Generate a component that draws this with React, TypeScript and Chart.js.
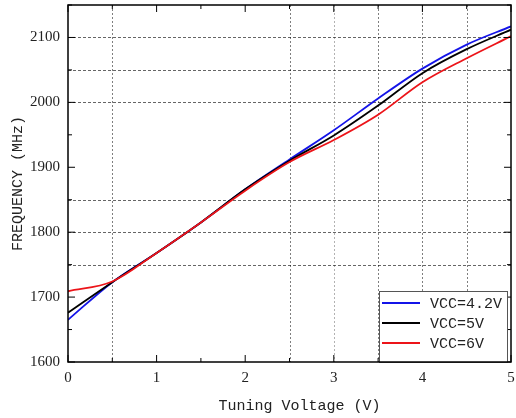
import React, { useEffect, useRef } from 'react';
import { Chart, registerables } from 'chart.js';

Chart.register(...registerables);

const voltages = [0, 0.5, 1, 1.5, 2, 2.5, 3, 3.5, 4, 4.5, 5];
const vcc42 = [1665, 1723, 1768, 1815, 1866, 1912, 1957, 2006, 2052, 2089, 2117];
const vcc5 = [1676, 1723, 1768, 1815, 1866, 1910, 1949, 1995, 2045, 2082, 2112];
const vcc6 = [1709, 1724, 1768, 1815, 1864, 1908, 1942, 1981, 2031, 2068, 2102];

const seriesLabels = ['VCC=4.2V', 'VCC=5V', 'VCC=6V'];
const seriesColors = ['#1414e8', '#000000', '#ec1419'];

const xTickLabels = ['0', '1', '2', '3', '4', '5'];
const yTickLabels = ['1600', '1700', '1800', '1900', '2000', '2100'];
const xGridValues = [0.5, 2.5, 3, 3.5, 4, 4.5];
const yGridValues = [1750, 1800, 1850, 2000, 2050, 2100];

const xTitle = 'Tuning Voltage (V)';
const yTitle = 'FREQUENCY (MHz)';

const MONO = '"Liberation Mono", monospace';
const SERIF = '"Liberation Serif", serif';

const gridPlugin = {
  id: 'partialGrid',
  beforeDatasetsDraw(chart: any) {
    const { ctx, chartArea: a, scales } = chart;
    ctx.save();
    ctx.lineWidth = 1;
    ctx.setLineDash([2, 2]);
    xGridValues.forEach((v) => {
      ctx.strokeStyle = v === 3 ? 'rgba(0,0,0,0.3)' : 'rgba(0,0,0,0.5)';
      const px = Math.round(scales.x.getPixelForValue(v)) + 0.5;
      ctx.beginPath();
      ctx.moveTo(px, a.top);
      ctx.lineTo(px, a.bottom);
      ctx.stroke();
    });
    ctx.strokeStyle = 'rgba(0,0,0,0.6)';
    ctx.setLineDash([3, 2]);
    yGridValues.forEach((v) => {
      const py = Math.round(scales.y.getPixelForValue(v)) + 0.5;
      ctx.beginPath();
      ctx.moveTo(a.left, py);
      ctx.lineTo(a.right, py);
      ctx.stroke();
    });
    ctx.restore();
  },
};

const framePlugin = {
  id: 'frameTicksLegend',
  afterDraw(chart: any) {
    const { ctx, chartArea: a, scales } = chart;
    const x = scales.x;
    const y = scales.y;
    ctx.save();
    ctx.strokeStyle = '#000';
    ctx.lineWidth = 1;
    const seg = (x1: number, y1: number, x2: number, y2: number) => {
      ctx.beginPath();
      ctx.moveTo(x1, y1);
      ctx.lineTo(x2, y2);
      ctx.stroke();
    };
    x.ticks.forEach((t: any) => {
      const px = x.getPixelForValue(t.value);
      const major = Number.isInteger(t.value);
      const len = major ? 7 : 4;
      seg(px, a.bottom, px, a.bottom - len);
      seg(px, a.top, px, a.top + len);
    });
    y.ticks.forEach((t: any) => {
      const py = y.getPixelForValue(t.value);
      const major = t.value % 100 === 0;
      const len = major ? 7 : 4;
      seg(a.left, py, a.left + len, py);
      seg(a.right, py, a.right - len, py);
    });

    // legend
    const boxW = 128;
    const boxH = 71;
    const bx = a.right - 4 - boxW;
    const by = a.bottom - boxH;
    ctx.fillStyle = '#fff';
    ctx.fillRect(bx, by, boxW, boxH);
    ctx.strokeStyle = '#555';
    ctx.lineWidth = 1;
    ctx.strokeRect(bx + 0.5, by + 0.5, boxW, boxH);
    ctx.font = '15px ' + MONO;
    ctx.textBaseline = 'middle';
    ctx.textAlign = 'left';
    chart.data.datasets.forEach((ds: any, i: number) => {
      const ly = by + 12 + i * 20;
      ctx.strokeStyle = ds.borderColor;
      ctx.lineWidth = 2;
      seg(bx + 3, ly, bx + 41, ly);
      ctx.fillStyle = '#222';
      ctx.fillText(ds.label, bx + 51, ly + 1);
    });

    // frame
    ctx.strokeStyle = '#000';
    ctx.lineWidth = 1.5;
    ctx.strokeRect(a.left, a.top, a.right - a.left, a.bottom - a.top);

    // x title
    ctx.fillStyle = '#222';
    ctx.font = '15px ' + MONO;
    ctx.textAlign = 'center';
    ctx.textBaseline = 'middle';
    ctx.fillText(xTitle, (a.left + a.right) / 2 + 10, 406);
    ctx.restore();
  },
};

export default function App() {
  const ref = useRef<HTMLCanvasElement | null>(null);
  useEffect(() => {
    if (!ref.current) return;
    const chart = new Chart(ref.current, {
      type: 'line',
      data: {
        datasets: [vcc42, vcc5, vcc6].map((vals, i) => ({
          label: seriesLabels[i],
          data: voltages.map((v, j) => ({ x: v, y: vals[j] })),
          borderColor: seriesColors[i],
          backgroundColor: seriesColors[i],
          borderWidth: 1.8,
          pointRadius: 0,
          cubicInterpolationMode: 'monotone' as const,
          order: 2 - i,
        })),
      },
      options: {
        animation: false,
        responsive: true,
        maintainAspectRatio: false,
        layout: { padding: { top: 5, right: 5, left: 0, bottom: 0 } },
        plugins: { legend: { display: false }, tooltip: { enabled: false } },
        scales: {
          x: {
            type: 'linear',
            min: 0,
            max: 5,
            afterFit: (s: any) => {
              s.height = 56;
              s.paddingLeft = 0;
              s.paddingRight = 0;
            },
            ticks: {
              stepSize: 0.5,
              autoSkip: false,
              maxRotation: 0,
              padding: 7,
              color: '#222',
              font: { family: SERIF, size: 15 },
              callback: (v: any) => {
                const i = xTickLabels.indexOf(String(v));
                return i >= 0 ? xTickLabels[i] : '';
              },
            },
            grid: { display: false, drawTicks: false },
            border: { display: false },
          },
          y: {
            type: 'linear',
            min: 1600,
            max: 2150,
            afterFit: (s: any) => {
              s.width = 68;
              s.paddingTop = 0;
              s.paddingBottom = 0;
            },
            title: {
              display: true,
              text: yTitle,
              color: '#222',
              font: { family: MONO, size: 15 },
              padding: { top: 9, bottom: 0 },
            },
            ticks: {
              stepSize: 50,
              autoSkip: false,
              padding: 8,
              color: '#222',
              font: { family: SERIF, size: 15 },
              callback: (v: any) => {
                const i = yTickLabels.indexOf(String(v));
                return i >= 0 ? yTickLabels[i] : '';
              },
            },
            grid: { display: false, drawTicks: false },
            border: { display: false },
          },
        },
      },
      plugins: [gridPlugin, framePlugin],
    });
    return () => chart.destroy();
  }, []);
  return (
    <div style={{ position: 'absolute', left: 0, top: 0, width: 516, height: 418, background: '#fff' }}>
      <canvas ref={ref} style={{ display: 'block' }} />
    </div>
  );
}
